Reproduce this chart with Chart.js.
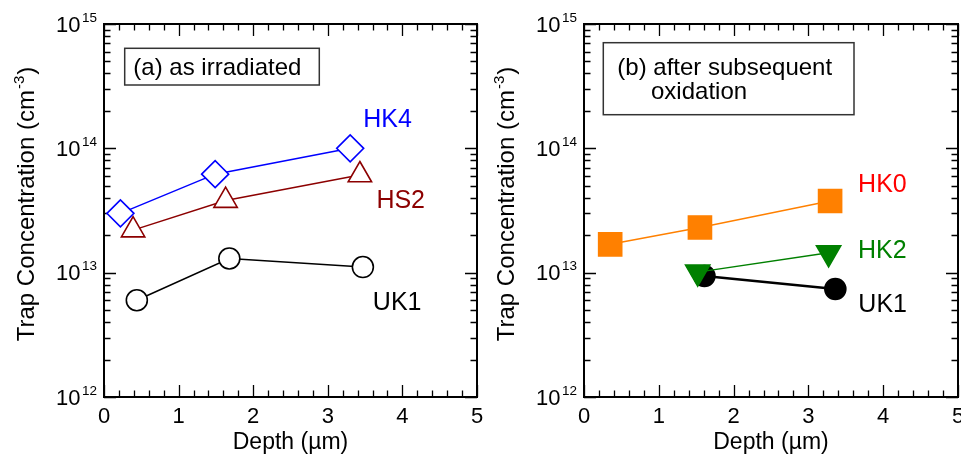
<!DOCTYPE html>
<html>
<head>
<meta charset="utf-8">
<script src="https://cdn.jsdelivr.net/npm/chart.js@4.4.1/dist/chart.umd.min.js"></script>
<style>
  body { margin: 0; background: #fff; width: 961px; height: 457px; overflow: hidden; position: relative; }
  canvas { position: absolute; top: 0; }
  #left { left: 0; }
  #right { left: 480px; }
</style>
</head>
<body>
<canvas id="left" width="490" height="457"></canvas>
<canvas id="right" width="481" height="457"></canvas>
<script>
const xTicks = [0, 1, 2, 3, 4, 5];
const yDecades = [12, 13, 14, 15];

// (a) as irradiated
const hk4Depth = [0.22, 1.49, 3.30];
const hk4Trap = [3.0e13, 6.2e13, 1.0e14];
const hs2Depth = [0.39, 1.63, 3.43];
const hs2Trap = [2.2e13, 3.8e13, 6.1e13];
const uk1aDepth = [0.44, 1.68, 3.47];
const uk1aTrap = [6.0e12, 1.3e13, 1.11e13];

// (b) after subsequent oxidation
const hk0Depth = [0.35, 1.55, 3.29];
const hk0Trap = [1.69e13, 2.31e13, 3.77e13];
const hk2Depth = [1.52, 3.27];
const hk2Trap = [1.01e13, 1.445e13];
const uk1bDepth = [1.61, 3.36];
const uk1bTrap = [9.4e12, 7.4e12];

const FONT = "'Liberation Sans', Arial, sans-serif";

function pts(depth, trap) {
  return depth.map((x, i) => ({ x: x, y: trap[i] }));
}

function series(label, depth, trap, s) {
  return {
    label: label,
    data: pts(depth, trap),
    showLine: true,
    clip: false,
    borderColor: s.color,
    borderWidth: s.lineWidth || 1.5,
    backgroundColor: s.fill,
    pointBackgroundColor: s.fill,
    pointBorderColor: s.color,
    pointBorderWidth: 1.6,
    pointStyle: s.style,
    pointRadius: s.radius,
    pointRotation: s.rotation || 0,
    labelColor: s.labelColor || s.color,
    labelDx: s.dx,
    labelDy: s.dy
  };
}

function fontPx(px) { return px + "px " + FONT; }

// frame, inward ticks on all four sides, text
const framePlugin = {
  id: "frame",
  beforeDatasetsDraw(chart, args, opts) {
    const ctx = chart.ctx;
    const { left, right, top, bottom } = chart.chartArea;
    const xs = chart.scales.x, ys = chart.scales.y;
    ctx.save();
    ctx.strokeStyle = "#000";
    ctx.lineWidth = 2;
    ctx.strokeRect(left, top, right - left, bottom - top);

    ctx.lineWidth = 1.3;
    ctx.beginPath();
    for (let i = 0; i <= 25; i++) {
      const px = Math.round(xs.getPixelForValue(i / 5)) + 0.5;
      const len = i % 5 === 0 ? 12 : 6.5;
      ctx.moveTo(px, bottom); ctx.lineTo(px, bottom - len);
      ctx.moveTo(px, top); ctx.lineTo(px, top + len);
    }
    for (let d = 12; d <= 15; d++) {
      for (let m = 1; m <= 9; m++) {
        if (d === 15 && m > 1) break;
        const py = Math.round(ys.getPixelForValue(m * Math.pow(10, d))) + 0.5;
        const len = m === 1 ? 12 : 6.5;
        ctx.moveTo(left, py); ctx.lineTo(left + len, py);
        ctx.moveTo(right, py); ctx.lineTo(right - len, py);
      }
    }
    ctx.stroke();

    // annotation box
    const b = opts.box;
    ctx.lineWidth = 1.5;
    ctx.strokeStyle = "#333";
    ctx.strokeRect(left + b.x, top + b.y, b.w, b.h);
    ctx.restore();
  },
  afterDatasetsDraw(chart, args, opts) {
    const ctx = chart.ctx;
    const { left, right, top, bottom } = chart.chartArea;
    const xs = chart.scales.x, ys = chart.scales.y;
    ctx.save();
    ctx.fillStyle = "#000";
    ctx.textBaseline = "alphabetic";

    // x tick labels
    ctx.font = fontPx(22);
    ctx.textAlign = "center";
    xTicks.forEach(v => ctx.fillText(String(v), xs.getPixelForValue(v), bottom + 26));

    // y tick labels 10^n
    yDecades.forEach(d => {
      const py = ys.getPixelForValue(Math.pow(10, d));
      ctx.font = fontPx(13.5);
      const sw = ctx.measureText(String(d)).width;
      ctx.textAlign = "left";
      ctx.fillText(String(d), left - 7 - sw, py - 2.3);
      ctx.font = fontPx(22);
      ctx.textAlign = "right";
      ctx.fillText("10", left - 7 - sw - 1.5, py + 7.5);
    });

    // x title
    ctx.font = fontPx(23);
    ctx.textAlign = "center";
    ctx.fillText("Depth (\u00b5m)", (left + right) / 2, bottom + 52);

    // y title with superscript
    ctx.save();
    ctx.translate(34, 204);
    ctx.rotate(-Math.PI / 2);
    ctx.textAlign = "left";
    ctx.font = fontPx(24);
    const t1 = "Trap Concentration (cm", t3 = ")";
    const w1 = ctx.measureText(t1).width, w3 = ctx.measureText(t3).width;
    ctx.font = fontPx(15);
    const w2 = ctx.measureText("-3").width;
    const total = w1 + w2 + w3 + 2;
    let sx = -total / 2;
    ctx.font = fontPx(24);
    ctx.fillText(t1, sx, 0);
    ctx.font = fontPx(15);
    ctx.fillText("-3", sx + w1 + 1, -10);
    ctx.font = fontPx(24);
    ctx.fillText(t3, sx + w1 + w2 + 2, 0);
    ctx.restore();

    // annotation text
    ctx.font = fontPx(24);
    ctx.textAlign = "left";
    opts.boxText.forEach(l => ctx.fillText(l.text, l.x, l.y));

    // series labels next to the last point of each series
    ctx.font = fontPx(25);
    chart.data.datasets.forEach((ds, i) => {
      const meta = chart.getDatasetMeta(i);
      const last = meta.data[meta.data.length - 1];
      ctx.fillStyle = ds.labelColor;
      ctx.fillText(ds.label, last.x + ds.labelDx, last.y + ds.labelDy);
    });
    ctx.restore();
  }
};

function makeChart(id, datasets, padRight, frameOpts) {
  return new Chart(document.getElementById(id), {
    type: "scatter",
    data: { datasets: datasets },
    options: {
      responsive: false,
      animation: false,
      devicePixelRatio: 1,
      layout: { autoPadding: false, padding: { top: 24, right: padRight, left: 0, bottom: 0 } },
      plugins: { legend: { display: false }, tooltip: { enabled: false }, frame: frameOpts },
      scales: {
        x: {
          type: "linear", min: 0, max: 5,
          ticks: { display: false }, grid: { display: false }, border: { display: false },
          afterFit: s => { s.height = 60; }
        },
        y: {
          type: "logarithmic", min: 1e12, max: 1e15,
          ticks: { display: false }, grid: { display: false }, border: { display: false },
          afterFit: s => { s.width = 104; }
        }
      }
    },
    plugins: [framePlugin]
  });
}

makeChart("left", [
  series("HK4", hk4Depth, hk4Trap, { color: "#0000ff", fill: "#fff", style: "rectRot", radius: 13.5, dx: 13, dy: -21 }),
  series("HS2", hs2Depth, hs2Trap, { color: "#8c0000", fill: "#fff", style: "triangle", radius: 13.5, dx: 16.5, dy: 33 }),
  series("UK1", uk1aDepth, uk1aTrap, { color: "#000", fill: "#fff", style: "circle", radius: 10.5, dx: 10, dy: 43 })
], 13, {
  box: { x: 20.7, y: 24.3, w: 194.6, h: 36.7 },
  boxText: [{ text: "(a) as irradiated", x: 133.3, y: 75 }]
});

makeChart("right", [
  series("HK0", hk0Depth, hk0Trap, { color: "#ff8000", fill: "#ff8000", labelColor: "#ff0000", style: "rect", radius: 16.3, dx: 28, dy: -9 }),
  series("HK2", hk2Depth, hk2Trap, { color: "#008000", fill: "#008000", style: "triangle", rotation: 180, radius: 14, dx: 29.4, dy: 5.6 }),
  series("UK1", uk1bDepth, uk1bTrap, { color: "#000", fill: "#000", style: "circle", radius: 10.5, lineWidth: 2.5, dx: 23, dy: 23 })
], 3, {
  box: { x: 19.3, y: 18.7, w: 250.7, h: 72 },
  boxText: [
    { text: "(b) after subsequent", x: 137.3, y: 75 },
    { text: "oxidation", x: 171, y: 99 }
  ]
});
</script>
</body>
</html>
